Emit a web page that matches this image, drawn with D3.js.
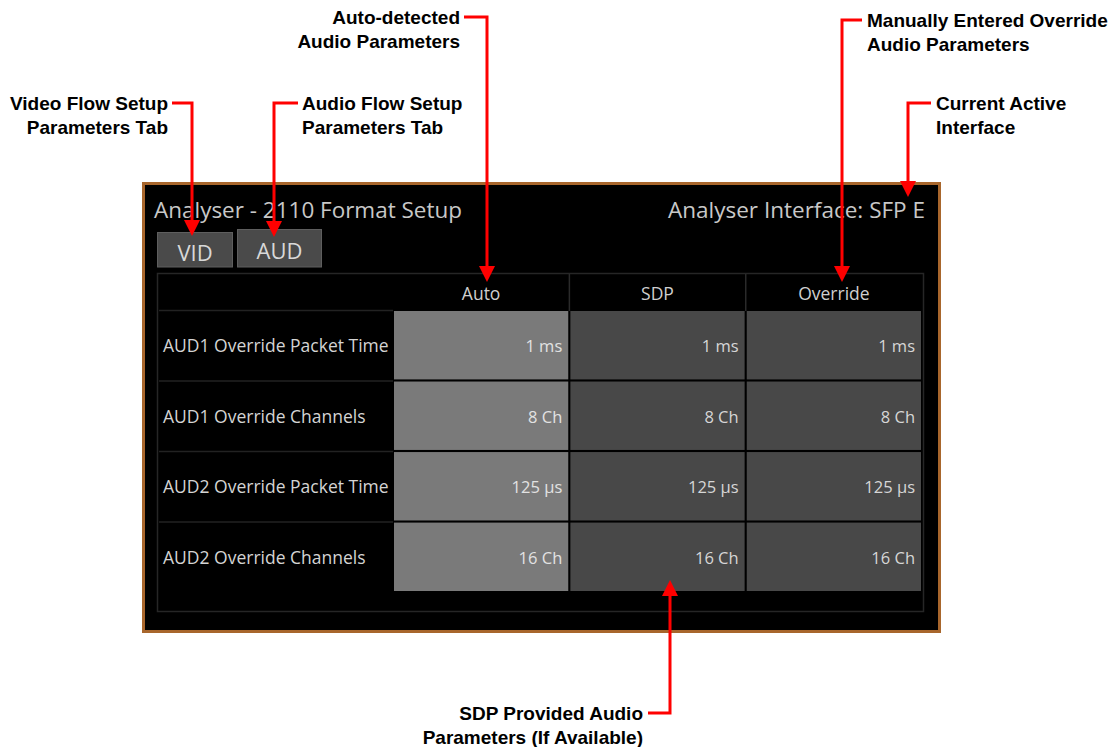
<!DOCTYPE html>
<html>
<head>
<meta charset="utf-8">
<script src="https://cdn.jsdelivr.net/npm/d3@7"></script>
<style>
  html, body { margin: 0; padding: 0; background: #ffffff; }
  svg { display: block; }
</style>
</head>
<body>
<svg id="chart" width="1118" height="747"></svg>
<script>
// ---- data ----
const columns = ["Auto", "SDP", "Override"];
const rowLabels = [
  "AUD1 Override Packet Time",
  "AUD1 Override Channels",
  "AUD2 Override Packet Time",
  "AUD2 Override Channels"
];
const autoValues = ["1 ms", "8 Ch", "125 µs", "16 Ch"];
const sdpValues = ["1 ms", "8 Ch", "125 µs", "16 Ch"];
const overrideValues = ["1 ms", "8 Ch", "125 µs", "16 Ch"];
const tabs = ["VID", "AUD"];
const panelTitle = "Analyser - 2110 Format Setup";
const interfaceLabel = "Analyser Interface: SFP E";

const annotations = [
  { lines: ["Video Flow Setup", "Parameters Tab"], anchor: "end" },
  { lines: ["Audio Flow Setup", "Parameters Tab"], anchor: "start" },
  { lines: ["Auto-detected", "Audio Parameters"], anchor: "end" },
  { lines: ["Manually Entered Override", "Audio Parameters"], anchor: "start" },
  { lines: ["Current Active", "Interface"], anchor: "start" },
  { lines: ["SDP Provided Audio", "Parameters (If Available)"], anchor: "end" }
];

const valuesByColumn = { Auto: autoValues, SDP: sdpValues, Override: overrideValues };

// ---- layout ----
const svg = d3.select("#chart");
const uiFont = "'Open Sans', 'DejaVu Sans', sans-serif";
const annFont = "'Liberation Sans', Arial, sans-serif";
const red = "#ff0000";

// panel
svg.append("rect")
  .attr("x", 143.5).attr("y", 183.5).attr("width", 796).attr("height", 448)
  .attr("fill", "#000").attr("stroke", "#a8662c").attr("stroke-width", 3);

svg.append("text")
  .attr("x", 154).attr("y", 218)
  .attr("font-family", uiFont).attr("font-size", 21)
  .attr("fill", "#c8c8c8").attr("textLength", 308).attr("lengthAdjust", "spacingAndGlyphs")
  .text(panelTitle);

svg.append("text")
  .attr("x", 925).attr("y", 218).attr("text-anchor", "end")
  .attr("font-family", uiFont).attr("font-size", 21)
  .attr("fill", "#c8c8c8").attr("textLength", 257).attr("lengthAdjust", "spacingAndGlyphs")
  .text(interfaceLabel);

// tabs
const tabLayout = { VID: { x0: 157, x1: 233, top: 232.5, ty: 261 }, AUD: { x0: 237, x1: 322, top: 229.5, ty: 259 } };
const tabG = svg.append("g");
tabG.selectAll("rect").data(tabs).join("rect")
  .attr("x", d => tabLayout[d].x0 + 0.5).attr("y", d => tabLayout[d].top)
  .attr("width", d => tabLayout[d].x1 - tabLayout[d].x0 - 1).attr("height", d => 267 - tabLayout[d].top)
  .attr("fill", "#4a4a4a").attr("stroke", "#5e5e5e").attr("stroke-width", 1);
tabG.selectAll("text").data(tabs).join("text")
  .attr("x", d => (tabLayout[d].x0 + tabLayout[d].x1) / 2).attr("y", d => tabLayout[d].ty)
  .attr("text-anchor", "middle")
  .attr("font-family", uiFont).attr("font-size", 22)
  .attr("fill", "#d8d8d8").text(d => d);

// table frame
svg.append("rect")
  .attr("x", 157.5).attr("y", 273.5).attr("width", 766).attr("height", 338)
  .attr("fill", "none").attr("stroke", "#262626").attr("stroke-width", 1.5);

const x = d3.scaleBand().domain(columns).range([394, 921]).paddingInner(0.012);
const y = d3.scaleBand().domain(rowLabels).range([311, 591]).paddingInner(0.03);

// header separators
const headG = svg.append("g");
columns.slice(1).forEach(c => {
  headG.append("line")
    .attr("x1", x(c) - 1).attr("x2", x(c) - 1)
    .attr("y1", 274).attr("y2", 311)
    .attr("stroke", "#2a2a2a").attr("stroke-width", 1.5);
});
headG.selectAll("text").data(columns).join("text")
  .attr("x", d => x(d) + x.bandwidth() / 2).attr("y", 300)
  .attr("text-anchor", "middle")
  .attr("font-family", uiFont).attr("font-size", 17.5)
  .attr("fill", "#cfcfcf").text(d => d);

// row separators in label column
svg.append("g").selectAll("line").data(rowLabels).join("line")
  .attr("x1", 159).attr("x2", 393)
  .attr("y1", d => y(d) - 0.5).attr("y2", d => y(d) - 0.5)
  .attr("stroke", "#222").attr("stroke-width", 1.5);

// row labels
svg.append("g").selectAll("text").data(rowLabels).join("text")
  .attr("x", 163).attr("y", d => y(d) + y.bandwidth() / 2 + 7)
  .attr("font-family", uiFont).attr("font-size", 17.5)
  .attr("fill", "#d4d4d4").text(d => d);

// cells
const cellData = [];
columns.forEach(c => rowLabels.forEach((r, i) => cellData.push({ col: c, row: r, value: valuesByColumn[c][i] })));

const cells = svg.append("g").selectAll("g").data(cellData).join("g");
cells.append("rect")
  .attr("x", d => x(d.col)).attr("y", d => y(d.row))
  .attr("width", x.bandwidth()).attr("height", y.bandwidth())
  .attr("fill", d => d.col === "Auto" ? "#7a7a7a" : "#484848");
cells.append("text")
  .attr("x", d => x(d.col) + x.bandwidth() - 6)
  .attr("y", d => y(d.row) + y.bandwidth() / 2 + 7)
  .attr("text-anchor", "end")
  .attr("font-family", uiFont).attr("font-size", 16.5)
  .attr("fill", d => d.col === "Auto" ? "#e2e2e2" : "#d6d6d6")
  .text(d => d.value);

// ---- annotations ----
const annG = svg.append("g");
function arrowHead(xTip, yTip, dir) {
  const w = 8, h = 16;
  const s = dir === "down" ? -1 : 1;
  annG.append("path")
    .attr("d", `M${xTip},${yTip} L${xTip - w},${yTip + s * h} L${xTip + w},${yTip + s * h} Z`)
    .attr("fill", red);
}
function leader(xText, yLine, xV, yTip, dir) {
  const yBase = dir === "down" ? yTip - 14 : yTip + 14;
  annG.append("path")
    .attr("d", `M${xText},${yLine} H${xV} V${yBase}`)
    .attr("fill", "none").attr("stroke", red).attr("stroke-width", 3);
  arrowHead(xV, yTip, dir);
}
function label(a, xPos, yBase) {
  const t = annG.append("text")
    .attr("x", xPos).attr("y", yBase).attr("text-anchor", a.anchor)
    .attr("font-family", annFont).attr("font-weight", "bold").attr("font-size", 19)
    .attr("fill", "#000");
  a.lines.forEach((l, i) => t.append("tspan").attr("x", xPos).attr("dy", i === 0 ? 0 : 23.5).text(l));
}

label(annotations[0], 168, 110);
leader(172, 103, 192, 236, "down");

label(annotations[1], 302, 110);
leader(298, 103, 274, 237, "down");

label(annotations[2], 460, 24);
leader(464, 17, 487, 282, "down");

label(annotations[3], 867, 27);
leader(862, 20, 842, 282, "down");

label(annotations[4], 936, 110);
leader(931, 103, 908, 197, "down");

label(annotations[5], 643, 720);
leader(648, 713, 670, 580, "up");
</script>
</body>
</html>
